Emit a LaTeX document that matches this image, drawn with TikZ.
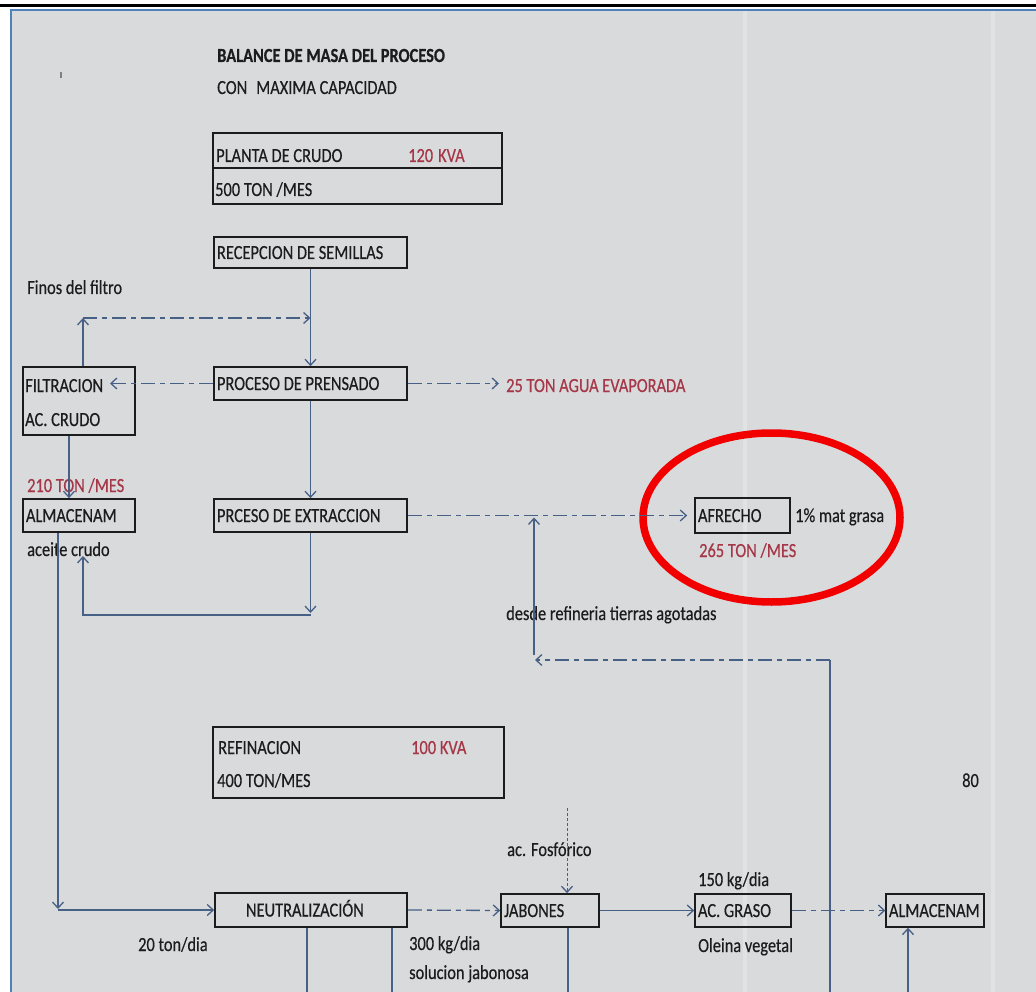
\documentclass[tikz,border=0pt]{standalone}
\usepackage{fontspec}
\setmainfont{Carlito}[FakeStretch=0.82,FakeBold=0.4]
\usetikzlibrary{arrows.meta}
\definecolor{bgc}{RGB}{217,218,219}
\definecolor{framec}{RGB}{79,129,189}
\definecolor{flowc}{RGB}{70,96,134}
\definecolor{redt}{RGB}{165,55,72}
\definecolor{txt}{RGB}{28,28,28}
\definecolor{ringc}{RGB}{242,0,0}
\newcommand{\boxtxt}[2]{\makebox[#1][l]{#2}}
\begin{document}
\begin{tikzpicture}[x=1pt,y=-1pt,
  every node/.style={font=\fontsize{20pt}{24pt}\selectfont, text=txt, inner sep=0pt},
  lbl/.style={anchor=base west},
  rlbl/.style={anchor=base west, text=redt},
  box/.style={draw=txt, line width=1.7pt, rectangle, inner xsep=3pt, inner ysep=0pt,
              text height=13pt, text depth=0pt},
  hbox/.style={draw=txt, line width=2.8pt, rectangle},
  flow/.style={draw=flowc, line width=1.3pt, -{Straight Barb[length=6pt,width=11pt,line width=1.3pt]}},
  wire/.style={draw=flowc, line width=1.3pt},
  dsh/.style={dash pattern=on 14pt off 5pt on 5pt off 5pt},
]
% canvas
\fill[white] (0,0) rectangle (1036,992);
\useasboundingbox (0,0) rectangle (1036,992);
\fill[bgc] (11,10) rectangle (1036,992);
\draw[white, opacity=0.22, line width=4pt] (745,11) -- (745,992);
\draw[white, opacity=0.22, line width=4pt] (993,11) -- (993,992);
\draw[black, line width=3pt] (0,5.5) -- (1036,5.5);
\draw[framec, line width=2pt] (11,992) -- (11,10) -- (1036,10);
\fill[gray] (60,72) rectangle (61.5,78);

% titles
\node[lbl] (title) at (217,62) {\textbf{BALANCE DE MASA DEL PROCESO}};
\node[lbl] (sub) at (217,94) {CON\hspace{9pt}MAXIMA CAPACIDAD};

% header box: planta de crudo
\node[hbox, minimum width=289pt, minimum height=71pt] (planta) at (357.5,168.5) {};
\draw[txt, line width=2pt] (planta.west) -- (planta.east);
\node[lbl] (pl1) at (216,162) {PLANTA DE CRUDO};
\node[rlbl] (kva1) at (408,162) {120\hspace{5pt}KVA};
\node[lbl] (pl2) at (215,196) {500 TON /MES};

% main column
\node[box, minimum width=193pt, minimum height=31pt] (rec) at (310.5,252.5) {\boxtxt{187pt}{RECEPCION DE SEMILLAS}};
\node[box, minimum width=193pt, minimum height=33pt] (pren) at (310.5,383.5) {\boxtxt{187pt}{PROCESO DE PRENSADO}};
\node[box, minimum width=193pt, minimum height=33pt] (ext) at (310.5,515.5) {\boxtxt{187pt}{PRCESO DE EXTRACCION}};

% left column
\node[lbl] (finos) at (27,294) {Finos del filtro};
\node[box, minimum width=112pt, minimum height=68pt] (filt) at (79,401) {};
\node[lbl] (f1) at (25,392) {FILTRACION};
\node[lbl] (f2) at (25,426) {AC. CRUDO};
\node[rlbl] (t210) at (27,492) {210 TON /MES};
\node[box, minimum width=112pt, minimum height=33pt] (alm) at (79,515.5) {\boxtxt{106pt}{ALMACENAM}};
\node[lbl] (aceite) at (27,556) {aceite crudo};

% right side of upper part
\node[rlbl] (agua) at (506,392) {25 TON AGUA EVAPORADA};
\node[box, minimum width=95pt, minimum height=35pt] (afr) at (742.5,515.5) {\boxtxt{89pt}{AFRECHO}};
\node[lbl] (mat) at (795,522) {1\% mat grasa};
\node[rlbl] (t265) at (699,557) {265 TON /MES};
\node[lbl] (desde) at (506,620) {desde refineria tierras agotadas};
\draw[ringc, line width=7.5pt] (771.5,517.5) ellipse [x radius=128.5, y radius=84.5];

% header box: refinacion
\node[hbox, minimum width=291pt, minimum height=71pt] (refin) at (358.5,762.5) {};
\node[lbl] (r1) at (218,754) {REFINACION};
\node[rlbl] (kva2) at (411,754) {100 KVA};
\node[lbl] (r2) at (217,787) {400 TON/MES};
\node[lbl] (n80) at (962,787) {80};

% bottom row
\node[box, minimum width=192pt, minimum height=34pt] (neut) at (311,910) {\boxtxt{186pt}{\hspace*{28pt}NEUTRALIZACIÓN}};
\node[box, minimum width=98pt, minimum height=33pt] (jab) at (550,910.5) {\boxtxt{92pt}{JABONES}};
\node[box, minimum width=96pt, minimum height=33pt] (acg) at (743,910.5) {\boxtxt{90pt}{AC. GRASO}};
\node[box, line width=1.4pt, minimum width=98pt, minimum height=33pt] (almr) at (935,910.5) {\boxtxt{92pt}{ALMACENAM}};
\node[lbl] (fos) at (507,856) {ac. Fosfórico};
\node[lbl] (t20) at (138,951) {20 ton/dia};
\node[lbl] (t300) at (409,950) {300 kg/dia};
\node[lbl] (sol) at (409,979) {solucion jabonosa};
\node[lbl] (t150) at (698,886) {150 kg/dia};
\node[lbl] (ole) at (698,952) {Oleina vegetal};

% connectors: upper part
\draw[flow] (rec.south) -- (pren.north);
\coordinate (fc) at (83,318);
\draw[flow] (filt.north -| fc) -- (fc);
\draw[flow, dsh] (fc) -- (fc -| rec.south);
\coordinate (fin) at (110,383.5);
\draw[flow, dsh] (pren.west) -- (fin);
\draw[flow, dsh, shorten >=7pt] (pren.east) -- (pren.east -| agua.west);
\draw[flow] (pren.south) -- (ext.north);
\draw[flow, dsh, shorten >=7pt] (ext.east) -- (afr.west);
\coordinate (fd) at (69,0);
\draw[flow] (filt.south -| fd) -- (alm.north -| fd);
\coordinate (ed) at (310.5,613);
\draw[flow] (ext.south) -- (ed);
\coordinate (eb) at (310.5,615);
\coordinate (eu) at (83,556);
\draw[flow] (eb) -| (eu);

% return from refinery
\coordinate (rb) at (830,992);
\coordinate (rc) at (830,660);
\coordinate (rl) at (535,660);
\draw[wire] (rb) -- (rc);
\draw[flow, dsh] (rc) -- (rl);
\coordinate (ju) at (534,655);
\draw[flow, shorten >=2pt] (ju) -- (ju |- ext.east);

% connectors: lower part
\coordinate (ad) at (58,909);
\draw[flow] (alm.south -| ad) -- (ad);
\draw[flow] (ad |- neut.west) -- (neut.west);
\draw[flow, dsh] (neut.east) -- (jab.west);
\coordinate (fo) at (567,808);
\draw[flow, line width=1pt, dash pattern=on 3pt off 2pt] (fo) -- (jab.north -| fo);
\draw[flow] (jab.east) -- (acg.west);
\draw[flow, dsh] (acg.east) -- (almr.west);
\coordinate (b1) at (307,992);
\draw[wire] (neut.south -| b1) -- (b1);
\coordinate (b2) at (392,992);
\draw[wire] (neut.south -| b2) -- (b2);
\coordinate (b3) at (568,992);
\draw[wire] (jab.south -| b3) -- (b3);
\coordinate (b4) at (908,992);
\draw[flow] (b4) -- (almr.south -| b4);
\end{tikzpicture}
\end{document}
